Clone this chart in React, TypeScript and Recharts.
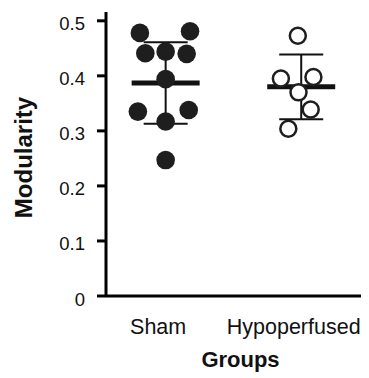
import React from 'react';
import { ScatterChart, Scatter, XAxis, YAxis, ErrorBar, Label } from 'recharts';

const groups = ['Sham', 'Hypoperfused'];
const shamValues = [0.478, 0.481, 0.441, 0.444, 0.44, 0.394, 0.335, 0.338, 0.317, 0.247];
const shamJitter = [-0.19, 0.18, -0.15, 0, 0.155, 0, -0.205, 0.17, 0, 0];
const hypoValues = [0.473, 0.395, 0.398, 0.37, 0.339, 0.304];
const hypoJitter = [-0.025, -0.15, 0.09, -0.02, 0.07, -0.095];
const groupMeans = [0.387, 0.38];
const groupSDs = [0.074, 0.059];
const yTicks = [0, 0.1, 0.2, 0.3, 0.4, 0.5];

const FONT = '"Liberation Sans", Arial, sans-serif';

const shamData = shamValues.map((v, i) => ({ x: 1 + shamJitter[i], y: v }));
const hypoData = hypoValues.map((v, i) => ({ x: 2 + hypoJitter[i], y: v }));
const summaryData = groupMeans.map((m, i) => ({ x: i + 1, y: m, sd: groupSDs[i] }));

const FilledDot = (props: any) => (
  <circle cx={props.cx} cy={props.cy} r={9.3} fill="#1e1e1e" />
);
const HollowDot = (props: any) => (
  <circle cx={props.cx} cy={props.cy} r={8} fill="#fff" stroke="#1e1e1e" strokeWidth={2.5} />
);
const MeanLine = (props: any) => (
  <line x1={props.cx - 34} x2={props.cx + 34} y1={props.cy} y2={props.cy} stroke="#111" strokeWidth={5} />
);

const YTick = (props: any) => {
  const { x, y, payload } = props;
  const v = payload.value;
  return (
    <text x={x} y={y} dy={9.5} textAnchor="end" fontFamily={FONT} fontSize={18.5} fill="#111">
      {v === 0 ? '0' : v.toFixed(1)}
    </text>
  );
};

const XTick = (props: any) => {
  const { x, y, payload } = props;
  const label = groups[Math.round(payload.value) - 1];
  return (
    <text x={x - 7.5} y={y + 38} textAnchor="middle" fontFamily={FONT} fontSize={21.5} fill="#111">
      {label}
    </text>
  );
};

export default function App() {
  return (
    <div style={{ width: 361, height: 370 }}>
      <ScatterChart width={361} height={370} margin={{ top: 4, right: 0, bottom: 0, left: 0 }}>
        <XAxis
          type="number"
          dataKey="x"
          domain={[0.56, 2.5]}
          ticks={[1, 2]}
          allowDataOverflow
          height={82}
          tickLine={false}
          tickSize={0}
          tickMargin={0}
          axisLine={{ stroke: '#000', strokeWidth: 3 }}
          tick={<XTick />}
        >
          <Label
            content={(p: any) => {
              const vb = p.viewBox;
              return (
                <text x={vb.x + vb.width / 2 + 3} y={vb.y + 71} textAnchor="middle" fontFamily={FONT} fontSize={22} fontWeight="bold" fill="#111">
                  Groups
                </text>
              );
            }}
          />
        </XAxis>
        <YAxis
          type="number"
          dataKey="y"
          domain={[0, 0.516]}
          ticks={yTicks}
          allowDataOverflow
          width={98}
          tickSize={9}
          tickMargin={12}
          axisLine={{ stroke: '#000', strokeWidth: 3 }}
          tickLine={{ stroke: '#000', strokeWidth: 3 }}
          tick={<YTick />}
        >
          <Label
            content={(p: any) => {
              const vb = p.viewBox;
              const cx = vb.x + 24;
              const cy = vb.y + vb.height / 2 + 3.5;
              return (
                <text x={cx} y={cy} transform={`rotate(-90, ${cx}, ${cy})`} textAnchor="middle" fontFamily={FONT} fontSize={24} fontWeight="bold" fill="#111">
                  Modularity
                </text>
              );
            }}
          />
        </YAxis>
        <Scatter data={summaryData} shape={<MeanLine />} isAnimationActive={false}>
          <ErrorBar dataKey="sd" direction="y" width={22} stroke="#111" strokeWidth={2} isAnimationActive={false} />
        </Scatter>
        <Scatter data={shamData} shape={<FilledDot />} isAnimationActive={false} />
        <Scatter data={hypoData} shape={<HollowDot />} isAnimationActive={false} />
      </ScatterChart>
    </div>
  );
}
